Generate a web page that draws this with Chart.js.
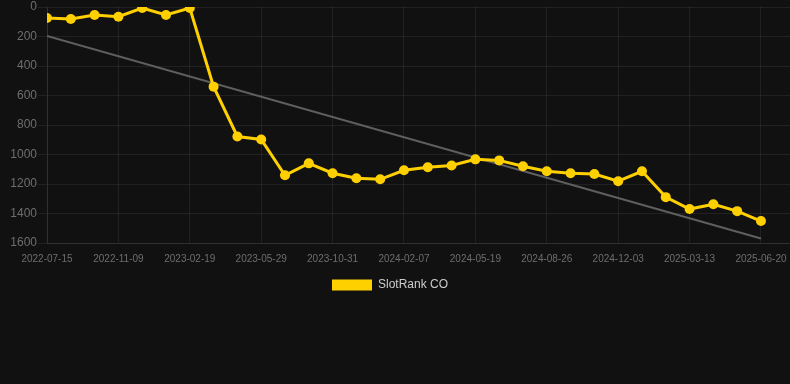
<!DOCTYPE html>
<html>
<head>
<meta charset="utf-8">
<script src="https://cdn.jsdelivr.net/npm/chart.js@4.4.1/dist/chart.umd.min.js"></script>
<style>
  html, body { margin: 0; padding: 0; background: #111111; }
  #wrap { position: relative; width: 790px; height: 301px; }
</style>
</head>
<body>
<div id="wrap"><canvas id="c"></canvas></div>
<script>
const dateLabels = [
  '2022-07-15','2022-08-24','2022-10-02','2022-11-09','2022-12-13','2023-01-16',
  '2023-02-19','2023-03-24','2023-04-26','2023-05-29','2023-07-20','2023-09-10',
  '2023-10-31','2023-12-03','2024-01-05','2024-02-07','2024-03-11','2024-04-15',
  '2024-05-19','2024-06-21','2024-07-24','2024-08-26','2024-09-28','2024-10-31',
  '2024-12-03','2025-01-05','2025-02-08','2025-03-13','2025-04-15','2025-05-18',
  '2025-06-20'
];
const rankValues = [
  74, 81, 54, 66, 7, 54, 7, 540, 878, 898, 1141, 1060, 1127, 1161, 1168, 1107,
  1087, 1075, 1033, 1040, 1080, 1114, 1127, 1132, 1181, 1114, 1289, 1370, 1337,
  1384, 1451
];
const trendIndex = [0, 30];
const trendValues = [196, 1570];
const yTicks = [0, 200, 400, 600, 800, 1000, 1200, 1400, 1600];
const seriesName = 'SlotRank CO';

const gridColor = 'rgba(255,255,255,0.07)';
const clear = 'rgba(0,0,0,0)';
const fontFamily = 'Liberation Sans, Arial, sans-serif';
const xMax = 31.22;
new Chart(document.getElementById('c'), {
  type: 'line',
  data: {
    datasets: [
      {
        label: seriesName,
        data: rankValues.map((v, i) => ({ x: i, y: v })),
        borderColor: '#FFD000',
        backgroundColor: '#FFD000',
        borderWidth: 3,
        pointRadius: 5,
        pointBackgroundColor: '#FFD000',
        pointBorderWidth: 0,
        tension: 0
      },
      {
        label: 'trend',
        data: trendIndex.map((x, i) => ({ x: x, y: trendValues[i] })),
        borderColor: '#5f5f5f',
        borderWidth: 2,
        pointRadius: 0,
        fill: false
      }
    ]
  },
  options: {
    responsive: true,
    maintainAspectRatio: false,
    animation: false,
    layout: { padding: { left: -10 }, autoPadding: false },
    plugins: {
      legend: {
        position: 'bottom',
        labels: {
          color: '#cccccc',
          padding: 11,
          font: { size: 12, family: fontFamily },
          boxWidth: 40,
          boxHeight: 11,
          generateLabels: chart => Chart.defaults.plugins.legend.labels.generateLabels(chart)
            .filter(item => item.text === seriesName)
            .map(item => Object.assign(item, { lineWidth: 0 }))
        }
      },
      tooltip: { enabled: false }
    },
    scales: {
      x: {
        type: 'linear',
        min: 0,
        max: xMax,
        grid: { color: gridColor, drawTicks: true, tickLength: 7, tickColor: clear },
        border: { color: gridColor },
        ticks: {
          stepSize: 3,
          includeBounds: false,
          autoSkip: false,
          maxRotation: 0,
          padding: 3,
          color: '#6e6e6e',
          font: { size: 10, family: fontFamily },
          callback: v => Number.isInteger(v) && dateLabels[v] !== undefined ? dateLabels[v] : ''
        }
      },
      y: {
        reverse: true,
        min: yTicks[0],
        max: yTicks[yTicks.length - 1],
        grid: { color: gridColor, tickLength: 9 },
        border: { color: gridColor },
        afterBuildTicks: axis => { axis.ticks = yTicks.map(v => ({ value: v })); },
        afterFit: axis => { axis.width = 57; },
        ticks: {
          color: '#6e6e6e',
          padding: 1,
          font: { size: 12, family: fontFamily, lineHeight: 1 },
          callback: v => String(v)
        }
      }
    }
  }
});
</script>
</body>
</html>
